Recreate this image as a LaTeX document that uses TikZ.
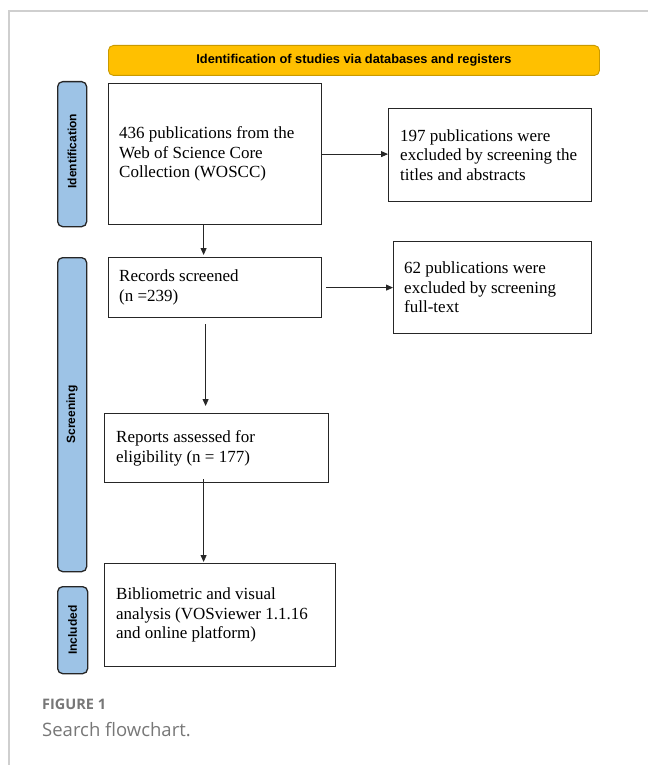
\documentclass[tikz,border=0pt]{standalone}
\usepackage{fontspec}
\setmainfont{Liberation Serif}
\newfontfamily\arialf{Liberation Sans}
\newfontfamily\capf{Open Sans}
\usetikzlibrary{arrows.meta,calc}
\definecolor{banner}{HTML}{FFC000}
\definecolor{bannerline}{HTML}{C99A00}
\definecolor{barfill}{HTML}{9DC3E6}
\definecolor{darkline}{HTML}{262626}
\definecolor{frame}{HTML}{CFCFCF}
\definecolor{capgray}{HTML}{777777}
\tikzset{
  box/.style={draw=darkline, line width=1.2pt, rectangle, inner sep=0pt, anchor=north west},
  txt/.style={inner sep=0pt, align=left, anchor=west, font=\fontsize{17}{19.5}\selectfont},
  sidebar/.style={draw=darkline, fill=barfill, line width=1.3pt, rounded corners=5pt, rectangle, inner sep=0pt, anchor=north west},
  sidelabel/.style={rotate=90, inner sep=0pt, font=\arialf\bfseries\fontsize{12}{14}\selectfont},
  arr/.style={draw=darkline, line width=0.8pt, -{Triangle[length=7pt,width=6pt]}}
}
\begin{document}
\begin{tikzpicture}[x=1pt,y=-1pt]
\useasboundingbox (0,0) rectangle (648,765);
% frame
\draw[frame, line width=1.3pt] (9,765) -- (9,11) -- (648,11);
% banner
\node[draw=bannerline, fill=banner, line width=0.9pt, rounded corners=5pt, minimum width=491pt, minimum height=30pt, inner sep=0pt, anchor=north west,
  font=\arialf\bfseries\fontsize{12.8}{14}\selectfont] (ban) at (108,45) {Identification of studies via databases and registers};
% side bars
\node[sidebar, minimum width=29pt, minimum height=145pt] (s1) at (57,81) {};
\node[sidebar, minimum width=29pt, minimum height=314pt] (s2) at (57,257) {};
\node[sidebar, minimum width=30pt, minimum height=87pt] (s3) at (57,586) {};
\node[sidelabel] (l1) at ($(s1.center)+(0,-3)$) {Identification};
\node[sidelabel] (l2) at (s2.center) {Screening};
\node[sidelabel] (l3) at (s3.center) {Included};
% boxes
\node[box, minimum width=213pt, minimum height=141pt] (b1) at (108,83) {};
\node[txt] (t1) at ($(b1.west)+(11,0)$) {436 publications from the\\Web of Science Core\\Collection (WOSCC)};
\node[box, minimum width=203pt, minimum height=93pt] (r1) at (388,108) {};
\node[txt] (tr1) at ($(r1.west)+(12,0)$) {197 publications were\\excluded by screening the\\titles and abstracts};
\node[box, minimum width=213pt, minimum height=60pt] (b2) at (108,257) {};
\node[txt] (t2) at ($(b2.west)+(11,0)$) {Records screened\\(n =239)};
\node[box, minimum width=198pt, minimum height=92pt] (r2) at (393,241) {};
\node[txt] (tr2) at ($(r2.west)+(11,0)$) {62 publications were\\excluded by screening\\full-text};
\node[box, minimum width=224pt, minimum height=69pt] (b3) at (104,413) {};
\node[txt] (t3) at ($(b3.west)+(12,0)$) {Reports assessed for\\eligibility (n = 177)};
\node[box, minimum width=231pt, minimum height=103pt] (b4) at (104,563) {};
\node[txt] (t4) at ($(b4.west)+(12,0)$) {Bibliometric and visual\\analysis (VOSviewer 1.1.16\\and online platform)};
% arrows
\draw[arr] ([xshift=-11.5pt]b1.south) -- ([xshift=-11.5pt,yshift=2pt]b2.north);
\draw[arr] (b1.east) -- (b1.east -| r1.west);
\draw[arr] ([xshift=4pt]b2.east) -- (b2.east -| r2.west);
\draw[arr] ([xshift=-9.5pt,yshift=-6pt]b2.south) -- ([xshift=-11pt,yshift=7pt]b3.north);
\draw[arr] ([xshift=-13pt,yshift=4pt]b3.south) -- ([xshift=-16.5pt,yshift=1pt]b4.north);
% caption
\node[inner sep=0pt, anchor=base west, text=capgray, font=\capf\bfseries\fontsize{14.5}{16}\selectfont] (cap1) at (42,709) {FIGURE 1};
\node[inner sep=0pt, anchor=base west, text=capgray, font=\capf\fontsize{18.5}{22}\selectfont] (cap2) at (42,736) {Search flowchart.};
\end{tikzpicture}
\end{document}
